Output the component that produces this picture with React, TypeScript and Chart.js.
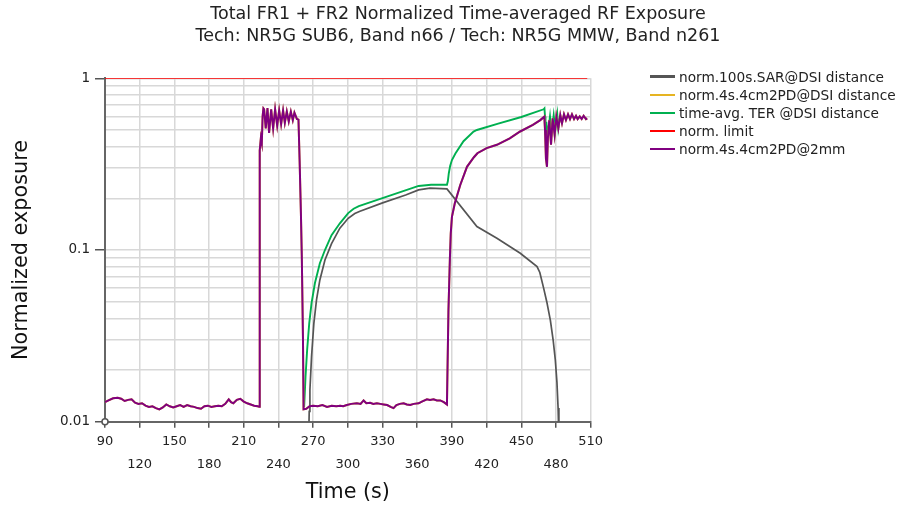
import React, { useEffect, useRef } from 'react';
import { Chart, registerables, Plugin } from 'chart.js';

Chart.register(...registerables);

const FONT = '"DejaVu Sans", Verdana, sans-serif';

const titleLines = [
  'Total FR1 + FR2 Normalized Time-averaged RF Exposure',
  'Tech: NR5G SUB6, Band n66 / Tech: NR5G MMW, Band n261',
];

const seriesNames = [
  'norm.100s.SAR@DSI distance',
  'norm.4s.4cm2PD@DSI distance',
  'time-avg. TER @DSI distance',
  'norm. limit',
  'norm.4s.4cm2PD@2mm',
];
const seriesColors = ['#555555', '#e6b422', '#00b050', '#ff0000', '#800080'];

// x axis ticks (s); the second label row holds every other one
const timeTicks = [90, 120, 150, 180, 210, 240, 270, 300, 330, 360, 390, 420, 450, 480, 510];
const lowerRowTicks = [120, 180, 240, 300, 360, 420, 480];

// y axis (log)
const yMajorTicks = [0.01, 0.1, 1];
const yMajorLabels = ['0.01', '0.1', '1'];
const yMinorTicks = [0.02, 0.03, 0.04, 0.05, 0.06, 0.07, 0.08, 0.09, 0.2, 0.3, 0.4, 0.5, 0.6, 0.7, 0.8, 0.9];

// norm.100s.SAR@DSI distance
const sarTime = [
  265.5, 266.6, 267.2, 268.6, 270.6, 272.9, 275.8, 280.2, 285.9, 293.1, 300.3, 306, 310.5, 330, 350,
  361.2, 371, 385.7, 411.6, 428.9, 449.1, 463.6, 466, 469.3, 472, 475.1, 477.5, 479.4, 480.8, 481.8,
  482.5, 483,
];
const sarValue = [
  0.005, 0.0115, 0.0153, 0.0239, 0.0374, 0.0512, 0.0669, 0.0875, 0.109, 0.134, 0.153, 0.163, 0.168,
  0.188, 0.209, 0.224, 0.229, 0.227, 0.137, 0.117, 0.0957, 0.08, 0.074, 0.06, 0.05, 0.039, 0.03,
  0.0229, 0.017, 0.012, 0.008, 0.005,
];

// time-avg. TER @DSI distance
const terTime = [
  262.2, 263.4, 264.8, 266.6, 268.6, 271.5, 275.8, 280.2, 285.9, 293.1, 300.3, 305, 309.5, 361.2, 372,
  385.7, 386.5, 387.3, 388.5, 390, 393, 400, 408.7, 411.6, 430, 450, 469.3, 470, 470.5, 470.9, 471.6,
  472.8, 474.8, 476.2, 478, 479.4, 481.1, 482, 483.7,
];
const terValue = [
  0.0122, 0.0183, 0.0262, 0.0374, 0.049, 0.064, 0.0837, 0.1, 0.122, 0.143, 0.164, 0.174, 0.18, 0.236,
  0.24, 0.24, 0.252, 0.28, 0.31, 0.334, 0.365, 0.43, 0.489, 0.5, 0.545, 0.595, 0.66, 0.668, 0.6, 0.47,
  0.558, 0.468, 0.6, 0.48, 0.61, 0.5, 0.615, 0.511, 0.611,
];

// norm.4s.4cm2PD@2mm (the @DSI distance PD trace lies underneath it)
const pdTime = [
  90, 93, 97, 101, 104, 107, 110, 113, 116, 119, 122, 125, 128, 131, 134, 137, 140, 143, 146, 149, 152,
  155, 158, 161, 164, 167, 170, 173, 176, 179, 182, 185, 188, 191, 194, 197, 199, 201, 204, 207, 210,
  213, 216, 219, 222, 223.4,
  223.6, 224, 224.8, 225.6, 226.3, 227, 227.6, 229, 230.5, 231.9, 233.7, 235.4, 237.1, 238.9, 240.6,
  242.3, 244, 245.5, 247.2, 248.9, 250.7, 252.4, 253.8, 255.9, 257.3, 258.3, 259.4, 260.2, 261.2, 261.7,
  264, 267, 270, 274, 278, 282, 286, 290, 293.4, 296, 299.1, 303, 307.8, 311, 313.6, 316, 319.3, 322,
  325.1, 328, 330.9, 334, 337, 339.5, 342, 345, 348.2, 351, 353.9, 357, 361.2, 364, 368.4, 371, 374.1,
  377, 379.9, 383, 385.7,
  386, 387, 388.2, 389, 390, 392.5, 397.2, 403, 409, 412, 420, 428.9, 440, 449, 460, 466.4, 469.9,
  470.5, 471.3, 472.2, 473, 474.2, 475.7, 477.1, 478.8, 480.3, 482, 483.7, 485.2, 486.9, 488.6, 490.4,
  492.1, 493.8, 495.6, 497.3, 498.7, 500.5, 502.2, 503.9, 505.9, 507,
];
const pdValue = [
  0.013, 0.0133, 0.0137, 0.0138, 0.0136, 0.0132, 0.0134, 0.0135, 0.0129, 0.0127, 0.0128, 0.0124, 0.0122,
  0.0123, 0.012, 0.0118, 0.0121, 0.0126, 0.0123, 0.0121, 0.0123, 0.0125, 0.0122, 0.0125, 0.0123, 0.0122,
  0.012, 0.0119, 0.0123, 0.0124, 0.0122, 0.0123, 0.0124, 0.0123, 0.0127, 0.0135, 0.013, 0.0128, 0.0134,
  0.0136, 0.0131, 0.0128, 0.0126, 0.0124, 0.0123, 0.0122,
  0.017, 0.38, 0.45, 0.42, 0.6, 0.668, 0.66, 0.51, 0.67, 0.48, 0.66, 0.51, 0.66, 0.53, 0.65, 0.54, 0.65,
  0.55, 0.64, 0.56, 0.64, 0.57, 0.63, 0.58, 0.575, 0.33, 0.165, 0.09, 0.03, 0.0118,
  0.0119, 0.0123, 0.0124, 0.0123, 0.0125, 0.0122, 0.0124, 0.0123, 0.0124, 0.0123, 0.0125, 0.0127, 0.0128,
  0.0127, 0.0133, 0.0128, 0.0129, 0.0127, 0.0128, 0.0127, 0.0126, 0.0125, 0.0122, 0.012, 0.0125, 0.0127,
  0.0128, 0.0126, 0.0125, 0.0127, 0.0128, 0.0131, 0.0135, 0.0134, 0.0135, 0.0133, 0.0133, 0.013, 0.0126,
  0.0171, 0.0447, 0.0875, 0.125, 0.156, 0.187, 0.239, 0.305, 0.347, 0.366, 0.392, 0.41, 0.447, 0.49,
  0.535, 0.571, 0.598,
  0.5, 0.34, 0.305, 0.45, 0.57, 0.41, 0.585, 0.468, 0.597, 0.511, 0.611, 0.547, 0.617, 0.571, 0.617,
  0.579, 0.617, 0.579, 0.605, 0.579, 0.6, 0.579, 0.605, 0.579, 0.585,
];

// norm. limit
const limitTime = [90, 507];
const limitValue = [1, 1];

const toPoints = (t: number[], v: number[]) => t.map((x, i) => ({ x, y: v[i] }));

// hollow marker where the axes meet
const originMarker: Plugin = {
  id: 'originMarker',
  afterDatasetsDraw(chart) {
    const { ctx } = chart;
    const x = chart.scales.x;
    const y = chart.scales.y;
    ctx.save();
    ctx.beginPath();
    ctx.arc(x.getPixelForValue(x.min), y.getPixelForValue(y.min), 3, 0, Math.PI * 2);
    ctx.fillStyle = '#fff';
    ctx.fill();
    ctx.lineWidth = 1.5;
    ctx.strokeStyle = '#555';
    ctx.stroke();
    ctx.restore();
  },
};

const ExposureChart: React.FC = () => {
  const chartRef = useRef<HTMLCanvasElement>(null);
  const chartInstance = useRef<Chart | null>(null);

  useEffect(() => {
    if (!chartRef.current) return;
    if (chartInstance.current) chartInstance.current.destroy();

    const line = (i: number, pts: { x: number; y: number }[], width: number, order: number) => ({
      label: seriesNames[i],
      data: pts,
      borderColor: seriesColors[i],
      backgroundColor: seriesColors[i],
      borderWidth: width,
      pointRadius: 0,
      tension: 0,
      yAxisID: 'y',
      order,
    });

    chartInstance.current = new Chart(chartRef.current, {
      type: 'line',
      data: {
        datasets: [
          line(0, toPoints(sarTime, sarValue), 1.7, 1),
          line(1, toPoints(pdTime, pdValue), 2, 1),
          line(2, toPoints(terTime, terValue), 1.9, 1),
          line(3, toPoints(limitTime, limitValue), 1.5, 1),
          line(4, toPoints(pdTime, pdValue), 2, 0),
        ],
      },
      options: {
        responsive: false,
        animation: false,
        events: [],
        layout: { padding: { left: 15, right: 0, top: 0, bottom: 0 } },
        plugins: {
          legend: { display: false },
          tooltip: { enabled: false },
          title: {
            display: true,
            text: titleLines,
            color: '#222',
            font: { family: FONT, size: 17.5, weight: 'normal', lineHeight: 1.217 },
            padding: { top: 4.1, bottom: 31.6 },
          },
        },
        scales: {
          x: {
            type: 'linear',
            min: 90,
            max: 510,
            afterBuildTicks: (s) => {
              s.ticks = timeTicks.map((v) => ({ value: v }));
            },
            afterFit: (s) => {
              s.height = 85.3;
            },
            ticks: {
              autoSkip: false,
              maxRotation: 0,
              minRotation: 0,
              padding: 2,
              color: '#222',
              font: { family: FONT, size: 13, lineHeight: 1.77 },
              callback: (v) => (lowerRowTicks.includes(Number(v)) ? ['', String(v)] : String(v)),
            },
            grid: { color: '#d8d8d8', lineWidth: 1.5, tickColor: '#555', tickLength: 6, tickWidth: 1.5 },
            border: { color: '#666', width: 2 },
            title: {
              display: true,
              text: 'Time (s)',
              color: '#111',
              font: { family: FONT, size: 20.7 },
              padding: { top: 0, bottom: 1.6 },
            },
          },
          y: {
            type: 'logarithmic',
            min: 0.01,
            max: 1,
            afterBuildTicks: (s) => {
              s.ticks = [...yMajorTicks, ...yMinorTicks]
                .sort((a, b) => a - b)
                .map((v) => ({ value: v, major: yMajorTicks.includes(v) }));
            },
            afterFit: (s) => {
              s.width = 90;
            },
            ticks: {
              autoSkip: false,
              padding: 5,
              color: '#222',
              font: { family: FONT, size: 13.5 },
              callback: (v) => {
                const k = yMajorTicks.indexOf(Number(v));
                return k >= 0 ? yMajorLabels[k] : '';
              },
            },
            grid: {
              color: '#d8d8d8',
              lineWidth: 1.5,
              tickLength: 10,
              tickWidth: 1.5,
              tickColor: (ctx) => (yMajorTicks.includes(ctx.tick.value) ? '#555' : 'rgba(0,0,0,0)'),
            },
            border: { color: '#666', width: 2 },
            title: {
              display: true,
              text: 'Normalized exposure',
              color: '#111',
              font: { family: FONT, size: 20.8 },
              padding: { top: -5.8, bottom: 0 },
            },
          },
          // empty strip that keeps room for the legend on the right
          gap: {
            type: 'linear',
            position: 'right',
            display: true,
            grid: { display: false },
            border: { display: false },
            ticks: { display: false },
            afterFit: (s) => {
              s.width = 310.3;
            },
          },
        },
      },
      plugins: [originMarker],
    });

    return () => {
      if (chartInstance.current) {
        chartInstance.current.destroy();
        chartInstance.current = null;
      }
    };
  }, []);

  return <canvas ref={chartRef} width={901} height={507} style={{ display: 'block' }} />;
};

const Legend: React.FC = () => (
  <div style={{ position: 'absolute', left: 650, top: 67.6, fontFamily: FONT, fontSize: 13.7, color: '#222' }}>
    {seriesNames.map((name, i) => (
      <div key={name} style={{ display: 'flex', alignItems: 'center', height: 18.15, whiteSpace: 'nowrap' }}>
        <span style={{ display: 'inline-block', width: 25, height: 2.5, background: seriesColors[i], marginRight: 4 }} />
        <span>{name}</span>
      </div>
    ))}
  </div>
);

export default function App() {
  return (
    <div style={{ position: 'fixed', left: 0, top: 0, width: 901, height: 507, background: '#fff' }}>
      <ExposureChart />
      <Legend />
    </div>
  );
}
